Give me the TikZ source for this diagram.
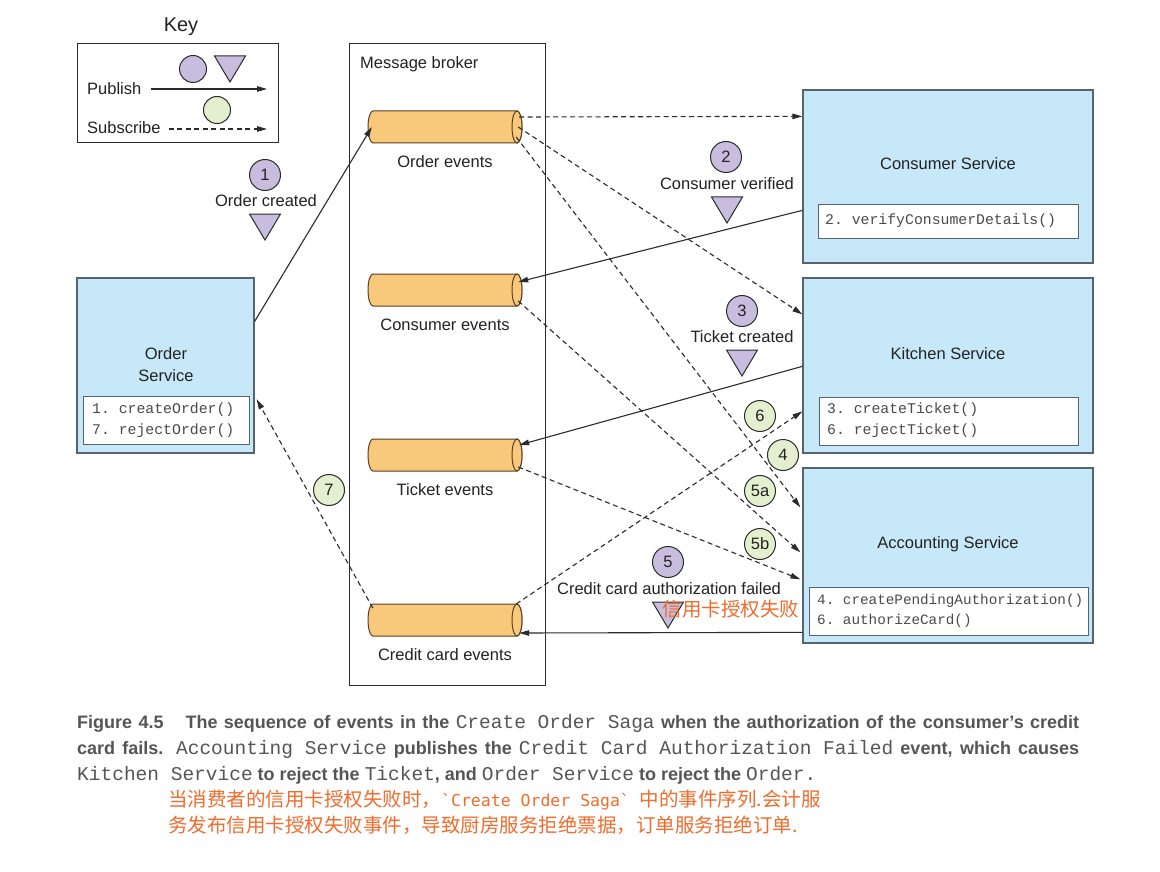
\documentclass[tikz,border=0pt]{standalone}
\usepackage{fontspec}
\setmainfont{Liberation Sans}
\setmonofont{Liberation Mono}
\newfontfamily\cjk{Noto Sans CJK SC}
\newfontfamily\cjkmono{DejaVu Sans Mono}
\usetikzlibrary{arrows.meta,calc}
\definecolor{svcblue}{HTML}{C7E8F8}
\definecolor{svcborder}{HTML}{55646E}
\definecolor{cylfill}{HTML}{F9C97B}
\definecolor{cylborder}{HTML}{5A3E22}
\definecolor{purp}{HTML}{C9BDDF}
\definecolor{grn}{HTML}{E3EFCF}
\definecolor{linec}{HTML}{2B2B2B}
\definecolor{txt}{HTML}{222222}
\definecolor{codetxt}{HTML}{4A4A4A}
\definecolor{capgrey}{HTML}{555555}
\definecolor{orng}{HTML}{EF6C2C}
\newcommand\dfont{\fontsize{16.5}{19.8}\selectfont}
\newcommand\codefont{\fontsize{14.8}{17}\selectfont\ttfamily}
\newcommand\codefontsm{\fontsize{14.3}{17}\selectfont\ttfamily}
\newcommand\capfont{\fontsize{18}{21}\selectfont\bfseries\rmfamily}
\newcommand\capmono{\fontsize{19.5}{21}\selectfont\mdseries\ttfamily}
\newcommand\cjkfont{\fontsize{19.5}{22}\selectfont\cjk}
\newcommand\cjkmonofont{\fontsize{16.5}{22}\selectfont\cjkmono}
\tikzset{
  svc/.style={draw=svcborder, fill=svcblue, line width=1.3pt, inner sep=0pt},
  codebox/.style={draw=svcborder, fill=white, line width=1pt, inner sep=0pt},
  plainbox/.style={draw=linec, line width=1pt, inner sep=0pt},
  dlabel/.style={font=\dfont, text=txt, inner sep=0pt, text height=11.8pt, text depth=0pt},
  codetext/.style={font=\codefont, text=codetxt, inner sep=0pt, anchor=west},
  codetextsm/.style={codetext, font=\codefontsm},
  pubcirc/.style={circle, draw=linec, line width=1pt, fill=purp, minimum size=31pt, inner sep=0pt, font=\dfont, text=txt, text height=11.8pt, text depth=0pt},
  subcirc/.style={pubcirc, fill=grn},
  keycirc/.style={circle, draw=linec, line width=1pt, minimum size=27pt, inner sep=0pt},
  trist/.style={draw=linec, line width=1pt, fill=purp, line join=miter},
  cylst/.style={draw=cylborder, line width=1pt, fill=cylfill},
  chanbox/.style={inner sep=0pt, minimum width=154pt, minimum height=32pt},
  pubarrow/.style={draw=linec, line width=1.1pt, -{Triangle[length=10pt,width=5.5pt]}},
  subarrow/.style={pubarrow, dash pattern=on 5pt off 3.5pt},
  capline/.style={anchor=base west, inner sep=0pt, text=capgrey},
  downtri/.pic={\draw[trist] (-15.5,-13) -- (15.5,-13) -- (0,13) -- cycle;}
}
\newcommand\chan[3]{%
  \node[chanbox] (#1) at (445,#2) {};
  \filldraw[cylst] (517,#2-16) -- (373,#2-16) arc[start angle=270,end angle=90,x radius=5,y radius=16] -- (517,#2+16) arc[start angle=90,end angle=-90,x radius=5,y radius=16] -- cycle;
  \draw[cylst] (517,#2) ellipse[x radius=5,y radius=16];
  \node[dlabel] (#1lab) at (445,#2+35) {#3};
}
\begin{document}
\begin{tikzpicture}[x=1pt,y=-1pt]
\useasboundingbox (0,0) rectangle (1160,872);
\fill[white] (0,0) rectangle (1160,872);

% Key
\node[font=\fontsize{20}{24}\selectfont, text=txt, inner sep=0pt] (keytitle) at (181,27) {Key};
\node[plainbox, minimum width=201pt, minimum height=99pt] (key) at (177.5,93.5) {};
\node[keycirc, fill=purp] (kc1) at (193,69) {};
\pic at (230,69) {downtri};
\node[keycirc, fill=grn] (kc2) at (217,110) {};
\node[dlabel, anchor=west] (pubtxt) at (87,89) {Publish};
\node[dlabel, anchor=west] (subtxt) at (87,128) {Subscribe};
\coordinate (pubend) at (267,89);
\coordinate (subend) at (267,129);
\draw[pubarrow] ($(pubtxt.east)+(9,0)$) -- (pubend);
\draw[subarrow] ($(subtxt.east)+(8,1)$) -- (subend);

% Message broker
\node[plainbox, minimum width=196pt, minimum height=641pt] (mb) at (447,364.5) {};
\node[dlabel, anchor=west] (mbt) at (360,63) {Message broker};

% Channels
\chan{oe}{127}{Order events}
\chan{ce}{290}{Consumer events}
\chan{te}{455}{Ticket events}
\chan{cce}{620}{Credit card events}

% Services
\node[svc, minimum width=177pt, minimum height=175pt] (os) at (165.5,365.5) {};
\node[dlabel] (osl1) at (166,354) {Order};
\node[dlabel] (osl2) at (166,376) {Service};
\node[codebox, minimum width=166pt, minimum height=48pt] (osc) at (166,420) {};
\node[codetext] (osc1) at (92,410) {1. createOrder()};
\node[codetext] (osc2) at (92,431) {7. rejectOrder()};

\node[svc, minimum width=290pt, minimum height=173pt] (cs) at (948,176.5) {};
\node[dlabel] (csl) at (948,164) {Consumer Service};
\node[codebox, minimum width=260pt, minimum height=33pt] (csc) at (948,221.5) {};
\node[codetext] (csc1) at (825,221) {2. verifyConsumerDetails()};

\node[svc, minimum width=290pt, minimum height=175pt] (ks) at (948,365.5) {};
\node[dlabel] (ksl) at (948,354) {Kitchen Service};
\node[codebox, minimum width=259pt, minimum height=48pt] (ksc) at (948.5,421) {};
\node[codetext] (ksc1) at (827,410) {3. createTicket()};
\node[codetext] (ksc2) at (827,431) {6. rejectTicket()};

\node[svc, minimum width=290pt, minimum height=175pt] (as) at (948,555.5) {};
\node[dlabel] (asl) at (948,543) {Accounting Service};
\node[codebox, minimum width=279pt, minimum height=48pt] (asc) at (948.5,611) {};
\node[codetextsm] (asc1) at (817,601) {4. createPendingAuthorization()};
\node[codetextsm] (asc2) at (817,621) {6. authorizeCard()};

% Connectors
\draw[pubarrow] ($(os.north east)+(0,44)$) -- ($(oe.west)+(4,0)$);
\draw[subarrow] ($(oe.east)+(-3,-10)$) -- ($(cs.north west)+(0,27)$);
\draw[subarrow] ($(oe.east)+(-4,0)$) -- ($(ks.north west)+(0,37)$);
\draw[subarrow] ($(oe.east)+(-6,10)$) -- ($(as.north west)+(-2,40)$);
\draw[subarrow] ($(ce.east)+(-4,11)$) -- ($(as.north west)+(-2,85)$);
\draw[subarrow] ($(te.east)+(-4,12)$) -- ($(as.north west)+(-2,112)$);
\draw[subarrow] ($(cce.east)+(-6,-16)$) -- ($(ks.north west)+(0,134)$);
\draw[subarrow] ($(cce.west)+(5,-12)$) -- ($(os.north east)+(2,122)$);
\draw[pubarrow] ($(cs.north west)+(0,121)$) -- ($(ce.east)+(-4,-8)$);
\draw[pubarrow] ($(ks.north west)+(0,89)$) -- ($(te.east)+(-3,-10)$);
\draw[pubarrow] ($(as.north west)+(0,165)$) -- ($(cce.east)+(-3,13)$);

% Event labels
\node[pubcirc] (e1) at (265,175) {1};
\node[dlabel] (e1t) at (266,201) {Order created};
\pic at (265,227) {downtri};

\node[pubcirc] (e2) at (726,157) {2};
\node[dlabel] (e2t) at (727,184) {Consumer verified};
\pic at (727,210) {downtri};

\node[pubcirc] (e3) at (742,311) {3};
\node[dlabel] (e3t) at (742,337) {Ticket created};
\pic at (742,363) {downtri};

\node[pubcirc] (e5) at (668,562) {5};
\node[dlabel] (e5t) at (669,589) {Credit card authorization failed};
\pic at (668,615) {downtri};
\node[font=\cjkfont, text=orng, inner sep=0pt] (e5c) at (731,609) {信用卡授权失败};

\node[subcirc] (s6) at (760,416) {6};
\node[subcirc] (s4) at (783,455) {4};
\node[subcirc] (s5a) at (760,491) {5a};
\node[subcirc] (s5b) at (760,544) {5b};
\node[subcirc] (s7) at (329,490) {7};

% Caption
\node[capline] (cap1) at (77,728) {\makebox[1002pt][s]{{\capfont Figure 4.5\hspace{22pt}The sequence of events in the }{\capmono Create Order Saga}{\capfont{} when the authorization of the consumer’s credit}}};
\node[capline] (cap2) at (77,754.5) {\makebox[1002pt][s]{{\capfont card fails. }{\capmono Accounting Service}{\capfont{} publishes the }{\capmono Credit Card Authorization Failed}{\capfont{} event, which causes}}};
\node[capline] (cap3) at (77,780) {{\capmono Kitchen Service}{\capfont{} to reject the }{\capmono Ticket}{\capfont , and }{\capmono Order Service}{\capfont{} to reject the }{\capmono Order.}};
\node[capline, text=orng] (cap4) at (168,806) {{\cjkfont 当消费者的信用卡授权失败时，}{\cjkmonofont `Create Order Saga` }{\cjkfont 中的事件序列.会计服}};
\node[capline, text=orng] (cap5) at (168,832) {{\cjkfont 务发布信用卡授权失败事件，导致厨房服务拒绝票据，订单服务拒绝订单.}};
\end{tikzpicture}
\end{document}
